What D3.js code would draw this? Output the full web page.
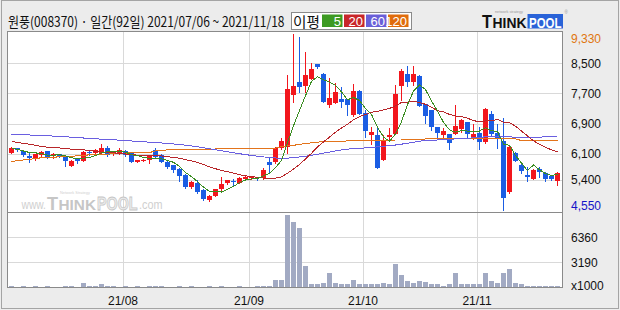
<!DOCTYPE html>
<html><head><meta charset="utf-8">
<script src="https://cdn.jsdelivr.net/npm/d3@7"></script>
<style>body{margin:0;background:#ececec;}svg{display:block;}</style>
</head><body>
<svg id="c" width="620" height="310"></svg>
<script>
const dates = [
"2021-07-06","2021-07-07","2021-07-08","2021-07-09","2021-07-12","2021-07-13","2021-07-14","2021-07-15","2021-07-16","2021-07-19","2021-07-20","2021-07-21","2021-07-22","2021-07-23","2021-07-26","2021-07-27","2021-07-28","2021-07-29","2021-07-30",
"2021-08-02","2021-08-03","2021-08-04","2021-08-05","2021-08-06","2021-08-09","2021-08-10","2021-08-11","2021-08-12","2021-08-13","2021-08-17","2021-08-18","2021-08-19","2021-08-20","2021-08-23","2021-08-24","2021-08-25","2021-08-26","2021-08-27","2021-08-30","2021-08-31",
"2021-09-01","2021-09-02","2021-09-03","2021-09-06","2021-09-07","2021-09-08","2021-09-09","2021-09-10","2021-09-13","2021-09-14","2021-09-15","2021-09-16","2021-09-17","2021-09-23","2021-09-24","2021-09-27","2021-09-28","2021-09-29","2021-09-30",
"2021-10-01","2021-10-05","2021-10-06","2021-10-07","2021-10-08","2021-10-12","2021-10-13","2021-10-14","2021-10-15","2021-10-18","2021-10-19","2021-10-20","2021-10-21","2021-10-22","2021-10-25","2021-10-26","2021-10-27","2021-10-28","2021-10-29",
"2021-11-01","2021-11-02","2021-11-03","2021-11-04","2021-11-05","2021-11-08","2021-11-09","2021-11-10","2021-11-11","2021-11-12","2021-11-15","2021-11-16","2021-11-17","2021-11-18"];

const open = [6130,6240,6170,6050,5960,6060,6170,6050,6080,6040, 5770,5950,5910,6150,6110,6130,6240,6080,6110,6180, 6110,5890,5910,5930,6200,6060,5890,5790,5690,5530, 5220,5330,5130,4870,4980,5150,5310,5380,5330,5420, 5440,5470,5450,5880,5880,6240,6280,7660,8010,7900, 8080,8480,8210,7400,7450,7550,7540,7130,7760,7180, 6600,6600,5930,6530,6620,7900,8220,8000,8170,7420, 7260,6810,6600,6610,6630,6760,6940,6540,6650,6420, 7150,6640,6440,5080,6110,5800,5540,5430,5690,5590, 5510,5380];
const high = [6280,6260,6180,6120,6100,6160,6180,6130,6090,6050, 5920,5980,6160,6170,6210,6360,6310,6170,6240,6190, 6120,5940,5950,6060,6240,6080,5900,5800,5710,5550, 5360,5400,5150,5000,5160,5470,5410,5430,5470,5510, 5490,5490,5720,5980,6280,6510,8190,9280,9210,8810, 8500,8490,8230,8120,7970,7880,7560,7950,7780,7260, 6800,6820,6600,6770,7920,8340,8440,8430,8180,7430, 7270,6820,6770,6630,7390,7010,6950,6890,6820,7320, 7240,6890,7050,6330,6150,5890,5740,5680,5750,5600, 5530,5610];
const low = [6120,6180,6050,5880,5940,6050,5990,5980,6020,5770, 5760,5840,5900,6060,6090,6120,6050,6070,6100,6050, 5880,5880,5900,5840,6010,5880,5720,5620,5370,5190, 5200,5060,4880,4830,4970,5140,5300,5280,5320,5400, 5430,5390,5430,5620,5850,6220,6120,7480,7740,7740, 8070,8370,7470,7350,7440,7350,7130,7110,7140,6550, 6360,5710,5920,6440,6610,7520,7900,7910,7360,6910, 6730,6550,6480,6230,6620,6680,6510,6480,6230,6380, 6600,6240,4590,5050,5900,5590,5380,5420,5490,5380, 5400,5270];
const close = [6260,6200,6060,5990,6090,6140,6000,6090,6040,5910, 5900,5910,6140,6110,6200,6240,6060,6150,6200,6060, 5890,5930,5930,6050,6020,5890,5740,5670,5510,5210, 5350,5070,4900,4980,5150,5290,5400,5340,5460,5490, 5480,5440,5670,5800,6250,6440,7810,7900,7880,8190, 8350,8410,7480,7580,7740,7480,7380,7760,7150,6710, 6670,5730,6440,6600,7680,8290,8010,8220,7370,7100, 6810,6660,6700,6370,6830,6990,6610,6630,6420,7290, 6610,6490,4930,6280,5910,5650,5490,5670,5610,5430, 5430,5590];
// volume in thousands of shares
const volume = [130,120,130,110,130,120,130,120,110,250, 130,120,630,130,250,380,250,130,120,130, 120,130,110,130,250,130,120,110,130,120, 130,120,110,130,120,130,110,120,130,110, 120,130,130,250,970,970,9170,8290,7570,2730, 500,380,630,1770,630,500,500,970,500,500, 380,500,630,380,3030,1640,760,630,760,670, 380,500,250,380,1890,500,380,380,380,1770, 760,630,1770,2350,630,380,250,130,130,250, 130,130];

const ma5 = [6250,6210,6170,6130,6120,6100,6060,6060,6070,6040, 5990,5970,5980,6000,6050,6120,6150,6150,6170,6140, 6070,6050,6000,5970,5960,5960,5920,5870,5760,5600, 5490,5360,5210,5100,5090,5080,5150,5230,5330,5400, 5430,5440,5510,5580,5730,5920,6390,6840,7250,7640, 8020,8140,8060,8000,7910,7740,7530,7590,7510,7300, 7140,6800,6540,6430,6620,6950,7400,7760,7920,7800, 7500,7230,6930,6730,6670,6710,6700,6690,6700,6790, 6710,6690,6350,6320,6050,5850,5650,5800,5670,5570, 5520,5550];
const ma20 = [6420,6400,6370,6350,6320,6290,6270,6260,6250,6230, 6220,6210,6200,6180,6160,6140,6130,6120,6110,6090, 6070,6060,6050,6050,6050,6040,6020,6000,5980,5940, 5910,5870,5810,5750,5700,5650,5620,5580,5540,5510, 5490,5470,5450,5440,5450,5480,5580,5690,5810,5960, 6110,6280,6410,6540,6670,6780,6880,7000,7080,7140, 7200,7220,7260,7300,7370,7460,7470,7490,7460,7410, 7330,7240,7210,7140,7100,7080,7040,6980,6940,6970, 6970,7010,6930,6920,6830,6700,6570,6440,6350,6270, 6200,6150];
const ma60 = [6616,6611,6603,6595,6590,6582,6574,6566,6558,6547, 6537,6526,6515,6505,6494,6483,6475,6467,6457,6446, 6436,6425,6414,6404,6393,6383,6369,6356,6340,6324, 6303,6282,6255,6229,6202,6175,6149,6122,6098,6074, 6053,6032,6013,5997,5984,5979,5981,5995,6011,6032, 6056,6082,6112,6141,6170,6197,6218,6234,6244,6252, 6266,6279,6295,6311,6329,6351,6377,6404,6430,6446, 6454,6462,6470,6481,6491,6499,6507,6521,6534,6545, 6550,6550,6550,6550,6529,6523,6523,6523,6529,6555, 6558,6561];
const ma120 = [5891,5913,5931,5950,5971,5990,6003,6008,6013,6019, 6029,6043,6056,6067,6074,6082,6088,6096,6106,6114, 6122,6125,6125,6130,6170,6194,6197,6197,6197,6197, 6199,6207,6213,6221,6223,6229,6231,6234,6237,6239, 6242,6242,6242,6242,6245,6287,6303,6321,6345,6367, 6388,6406,6420,6428,6430,6433,6436,6436,6436,6436, 6441,6449,6454,6459,6462,6462,6467,6475,6483,6489, 6492,6492,6492,6492,6492,6492,6492,6492,6492,6492, 6492,6492,6492,6492,6492,6446,6441,6441,6441,6441, 6441,6441];

const priceMin = 4550, priceMax = 9330;
const priceGridTicks = [8500,7700,6900,6100,5400];
const priceLabels = [9330,8500,7700,6900,6100,5400,4550];
const volMax = 9470;
const volTicks = [6360,3190];
const volUnitLabel = "x1000";
const monthTickDates = ["2021-08-02","2021-09-01","2021-10-01","2021-11-01"];
const monthTickLabels = ["21/08","21/09","21/10","21/11"];
const titleText = "원풍(008370) · 일간(92일) 2021/07/06 ~ 2021/11/18";
const legendTitle = "이평";
const legendLabels = ["5","20","60","120"];
const legendColors = ["#3d9a23","#c8262a","#6a5fd8","#e06c0c"];
const maColors = ["#3b8e22","#b8262a","#6a5fe0","#e3741b"];

const svg = d3.select("#c");
const FONT = "'Liberation Sans', Arial, sans-serif";
const KFONT = "'Noto Sans CJK KR', 'Noto Sans', sans-serif";

// place a text so that its rendered width equals w (horizontal scale only)
function fitText(t, x0, y0, w) {
  const len = t.node().getComputedTextLength() || w;
  t.attr("x",0).attr("y",0).attr("transform",`translate(${x0},${y0}) scale(${w/len},1)`);
  return t;
}

svg.append("rect").attr("width",620).attr("height",310).attr("fill","#ececec");
svg.append("rect").attr("x",1.5).attr("y",0.5).attr("width",617).attr("height",308)
  .attr("fill","none").attr("stroke","#a4a4a4");

const x = d3.scaleBand().domain(dates).range([8.5,560.5]).paddingInner(0).paddingOuter(0);
const y = d3.scaleLinear().domain([priceMin, priceMax]).range([212, 32]);
const yv = d3.scaleLinear().domain([0, volMax]).range([287.5, 212.5]);
const cx = d => x(d) + x.bandwidth()/2;

// plot area
svg.append("rect").attr("x",7.5).attr("y",31.5).attr("width",555).attr("height",256)
  .attr("fill","#ffffff");

const grid = svg.append("g").attr("stroke","#d9d9d9").attr("shape-rendering","crispEdges");
priceGridTicks.forEach(t => {
  const yy = Math.round(y(t)) + 0.5;
  grid.append("line").attr("x1",8).attr("x2",562).attr("y1",yy).attr("y2",yy);
});
volTicks.forEach(t => {
  const yy = Math.round(yv(t)) + 0.5;
  grid.append("line").attr("x1",8).attr("x2",562).attr("y1",yy).attr("y2",yy);
});
monthTickDates.forEach(d => {
  const xx = Math.round(x(d)) + 0.5;
  grid.append("line").attr("x1",xx).attr("x2",xx).attr("y1",32).attr("y2",287);
});

// watermark
const wm = svg.append("g").attr("font-family",FONT);
fitText(wm.append("text").attr("font-size",13).attr("fill","#cfcfcf").text("www."), 21.5, 209, 24.5);
fitText(wm.append("text").attr("font-size",18).attr("font-weight","bold").attr("fill","#c6c6c6").text("T"), 47, 210, 11);
fitText(wm.append("text").attr("font-size",15).attr("font-weight","bold").attr("fill","#c6c6c6").text("HINK"), 58.5, 210, 37.5);
fitText(wm.append("text").attr("font-size",18).attr("font-weight","bold").attr("fill","#ececec")
  .attr("stroke","#c6c6c6").attr("stroke-width",0.8).text("POOL"), 97, 210, 40.5);
fitText(wm.append("text").attr("font-size",13).attr("fill","#cfcfcf").text(".com"), 139, 209, 23.5);
fitText(wm.append("text").attr("font-size",4).attr("fill","#d0d0d0").text("Network Strategy"), 60, 194, 30);

// volume bars
svg.append("g").attr("shape-rendering","crispEdges").selectAll("rect").data(volume).join("rect")
  .attr("x",(d,i)=>x(dates[i])+0.5)
  .attr("width",x.bandwidth()-1)
  .attr("y",d=>Math.round(yv(d)))
  .attr("height",d=>Math.max(1,287-Math.round(yv(d))))
  .attr("fill","#a2aac3");

// candles
const RED="#f2161d", BLUE="#1b5de3";
const cg = svg.append("g").attr("shape-rendering","crispEdges");
dates.forEach((d,i)=>{
  const o=open[i], c=close[i], h=high[i], l=low[i];
  const col = c>=o ? RED : BLUE;
  const xc = Math.floor(cx(d)) + 0.5;
  cg.append("line").attr("x1",xc).attr("x2",xc)
    .attr("y1",Math.round(y(h))).attr("y2",Math.round(y(l))+1).attr("stroke",col);
  const top = Math.round(y(Math.max(o,c))), bot = Math.round(y(Math.min(o,c)));
  cg.append("rect").attr("x",x(d)+0.5).attr("width",x.bandwidth()-1)
    .attr("y",top).attr("height",Math.max(1,bot-top)).attr("fill",col);
});

// moving averages
const line = d3.line().x((v,i)=>cx(dates[i])).y(v=>y(v));
[ma120, ma60, ma20, ma5].forEach((arr,k)=>{
  const col = [maColors[3],maColors[2],maColors[1],maColors[0]][k];
  svg.append("path").attr("d",line(arr)).attr("fill","none").attr("stroke",col)
    .attr("stroke-width",1).attr("shape-rendering","crispEdges");
});

// frame
const fr = svg.append("g").attr("stroke","#8a8a8a").attr("fill","none").attr("shape-rendering","crispEdges");
fr.append("rect").attr("x",7.5).attr("y",31.5).attr("width",555).attr("height",256);
fr.append("line").attr("x1",7.5).attr("x2",562.5).attr("y1",212.5).attr("y2",212.5);

// right axis labels
const fmt = d3.format(",");
const ax = svg.append("g").attr("font-family",FONT).attr("font-size",12);
priceLabels.forEach((v,i)=>{
  let yy = y(v) + 4.5, col = "#111";
  if (i===0) { yy = y(v) + 10.5; col = "#e0760f"; }
  if (i===priceLabels.length-1) { yy = y(v) - 2; col = "#1414c8"; }
  ax.append("text").attr("x",571).attr("y",yy).attr("fill",col).text(fmt(v));
});
volTicks.forEach(v=>{
  ax.append("text").attr("x",571).attr("y",yv(v)+4.5).attr("fill","#111").text(String(v));
});
ax.append("text").attr("x",571).attr("y",290).attr("fill","#111").text(volUnitLabel);

// x axis labels
monthTickDates.forEach((d,i)=>{
  ax.append("text").attr("x",Math.round(x(d))).attr("y",305).attr("text-anchor","middle")
    .attr("fill","#111").text(monthTickLabels[i]);
});

// title
fitText(svg.append("text").attr("font-family",KFONT).attr("font-size",14)
  .attr("fill","#111").text(titleText), 8, 26.5, 277);

// legend
svg.append("rect").attr("x",291.5).attr("y",12.5).attr("width",120).attr("height",17)
  .attr("fill","#ffffff").attr("stroke","#8a8a8a").attr("shape-rendering","crispEdges");
fitText(svg.append("text").attr("font-family",KFONT).attr("font-size",14)
  .attr("fill","#111").text(legendTitle), 293, 26.5, 27);
legendLabels.forEach((lab,i)=>{
  const bx = 322 + i*22;
  svg.append("rect").attr("x",bx).attr("y",14.5).attr("width",20.5).attr("height",12.5).attr("fill",legendColors[i]);
  svg.append("text").attr("x",bx+19).attr("y",25.5).attr("text-anchor","end").attr("font-family",FONT)
    .attr("font-size",13).attr("fill","#ffffff").text(lab);
});

// logo
const lg = svg.append("g").attr("font-family",FONT).attr("font-weight","bold");
fitText(lg.append("text").attr("font-size",18).attr("fill","#111").text("T"), 482, 28, 10);
fitText(lg.append("text").attr("font-size",14).attr("fill","#111").text("HINK"), 492.5, 28, 34);
lg.append("rect").attr("x",527.5).attr("y",14).attr("width",35.5).attr("height",14.5).attr("fill","#2a63d8");
fitText(lg.append("text").attr("font-size",15).attr("fill","#ffffff").text("POOL"), 529, 28, 32.5);
fitText(svg.append("text").attr("font-family",FONT).attr("font-size",3.5)
  .attr("fill","#9a9a9a").text("network strategy"), 495, 13, 28);
svg.append("text").attr("x",564.5).attr("y",14).attr("font-family",FONT).attr("font-size",4.5)
  .attr("fill","#9a9a9a").text("®");
</script>
</body></html>
